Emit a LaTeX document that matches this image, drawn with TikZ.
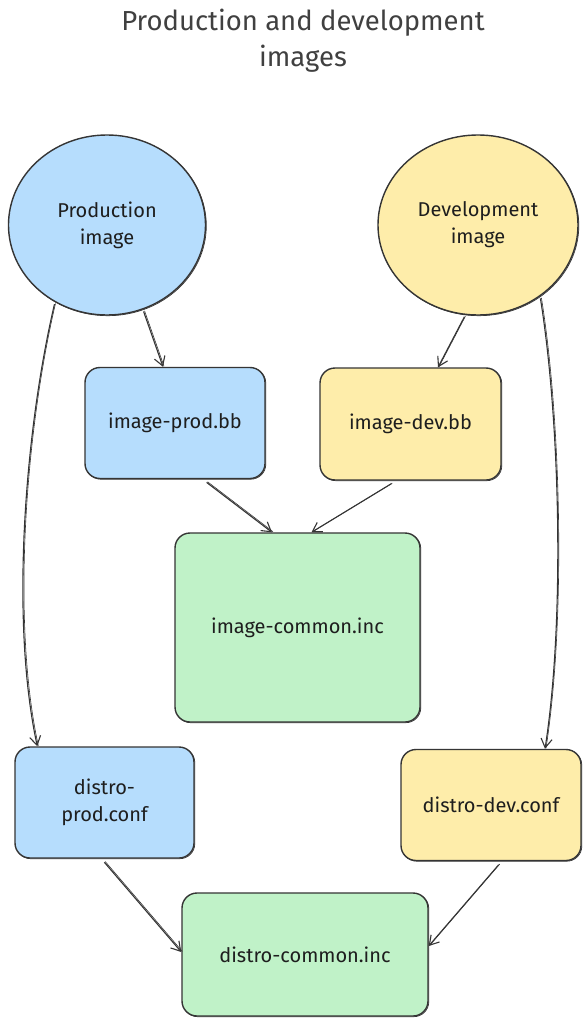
\documentclass[tikz,border=0pt]{standalone}
\usepackage{fontspec}
\setmainfont{Fira Sans}
\usetikzlibrary{arrows.meta,shapes.geometric,calc}
\definecolor{ink}{HTML}{1E1E1E}
\definecolor{fblue}{HTML}{B6DDFD}
\definecolor{fyellow}{HTML}{FEEDAA}
\definecolor{fgreen}{HTML}{C0F2C8}
\tikzset{
  sketch/.style={draw=ink!90, line width=1.4pt,
    preaction={draw=ink!90, line width=0.7pt, transform canvas={shift={(0.8pt,-0.7pt)}}}},
  boxnode/.style={sketch, rectangle, rounded corners=15pt, align=center,
    font=\fontsize{20}{27}\selectfont, text=ink, inner sep=0pt},
  circnode/.style={sketch, ellipse, align=center, inner sep=0pt,
    font=\fontsize{20}{27}\selectfont, text=ink},
  conn/.style={draw=ink!90, line width=1.1pt, -{Straight Barb[length=9pt,width=11pt,line width=1.1pt]},
    shorten <=2pt,
    preaction={draw=ink!90, line width=0.6pt, -, transform canvas={shift={(1pt,0.6pt)}}}},
  titlenode/.style={align=center, font=\fontsize{27.5}{36}\selectfont, text=ink!85}
}
\begin{document}
\begin{tikzpicture}[x=1pt,y=-1pt]
\useasboundingbox (0,0) rectangle (587,1024);
\fill[white] (0,0) rectangle (587,1024);

\node[titlenode] (title) at (303,41) {Production and development\\images};

\node[circnode, fill=fblue, minimum width=197pt, minimum height=180pt] (pc) at (107,225) {Production\\image};
\node[circnode, fill=fyellow, minimum width=200pt, minimum height=180pt] (dc) at (478,225) {Development\\image};

\node[boxnode, fill=fblue, minimum width=180pt, minimum height=111pt] (ip) at (175,423) {image-prod.bb};
\node[boxnode, fill=fyellow, minimum width=181pt, minimum height=112pt] (id) at (410.5,424) {image-dev.bb};
\node[boxnode, fill=fgreen, minimum width=245pt, minimum height=189pt] (ic) at (297.5,627.5) {image-common.inc};
\node[boxnode, fill=fblue, minimum width=179pt, minimum height=111pt] (dp) at (104.5,802.5) {distro-\\prod.conf};
\node[boxnode, fill=fyellow, minimum width=180pt, minimum height=111pt] (dd) at (491,805) {distro-dev.conf};
\node[boxnode, fill=fgreen, minimum width=246pt, minimum height=123pt] (dcm) at (305,954.5) {distro-common.inc};

\draw[conn] (pc.-67) -- ([xshift=-12pt]ip.north);
\draw[conn] (pc.-124) .. controls (25,430) and (10,620) .. ([xshift=23pt]dp.north west);
\draw[conn] (dc.-98) -- ([xshift=27.5pt]id.north);
\draw[conn] (dc.-49) .. controls (560,420) and (565,620) .. ([xshift=54pt]dd.north);
\draw[conn] ([xshift=30pt,yshift=-2pt]ip.south) -- ([xshift=-25.5pt]ic.north);
\draw[conn] ([xshift=-17.5pt,yshift=-2pt]id.south) -- ([xshift=14pt]ic.north);
\draw[conn] ([xshift=-1.5pt,yshift=-2pt]dp.south) -- ([yshift=2.5pt]dcm.west);
\draw[conn] ([xshift=9pt,yshift=-2pt]dd.south) -- ([yshift=8.5pt]dcm.east);
\end{tikzpicture}
\end{document}
